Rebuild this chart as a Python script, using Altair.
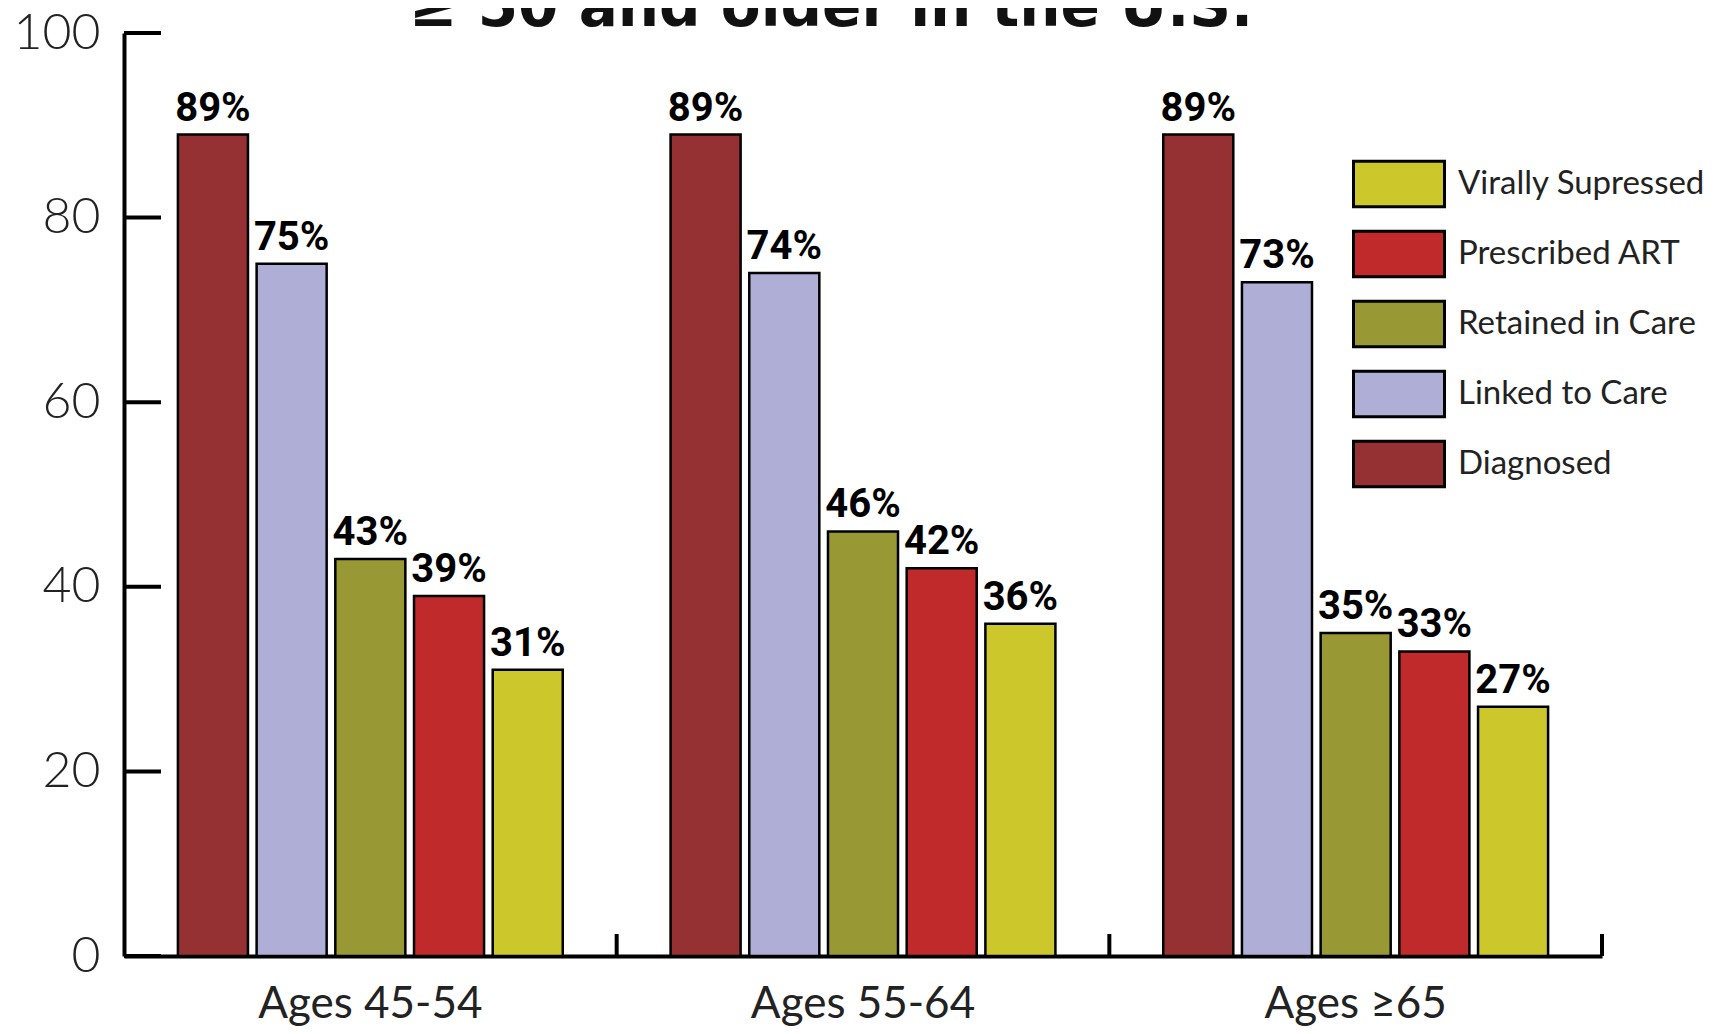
import altair as alt
import pandas as pd

groups = ["Ages 45-54", "Ages 55-64", "Ages ≥65"]
series = ["Diagnosed", "Linked to Care", "Retained in Care", "Prescribed ART", "Virally Supressed"]
colors = ["#963133", "#aeaed6", "#989934", "#c02a2a", "#ccc82c"]
vals_45_54 = [89, 75, 43, 39, 31]
vals_55_64 = [89, 74, 46, 42, 36]
vals_65 = [89, 73, 35, 33, 27]
y_ticks = [0, 20, 40, 60, 80, 100]
title_text = "≥ 50 and older in the U.S."

rows = []
for g, vals in zip(groups, [vals_45_54, vals_55_64, vals_65]):
    for s, v in zip(series, vals):
        rows.append({"group": g, "series": s, "value": v, "label": f"{v}%"})
df = pd.DataFrame(rows)

W, H = 1478, 923

x_enc = alt.X("group:N", sort=groups, title=None,
              scale=alt.Scale(paddingInner=0, paddingOuter=0),
              axis=alt.Axis(labelAngle=0, ticks=False, domainWidth=4, domainColor="black",
                            labelFont="Lato", labelFontSize=44, labelColor="#222",
                            labelPadding=26, labelLimit=0))
xo_enc = alt.XOffset("series:N", sort=series,
                     scale=alt.Scale(paddingInner=0.11, paddingOuter=0.685))
y_enc = alt.Y("value:Q", title=None,
              scale=alt.Scale(domain=[0, 100], nice=False),
              axis=alt.Axis(values=y_ticks, grid=False, ticks=False, domainWidth=4,
                            domainColor="black", labelFont="Lato", labelFontSize=50,
                            labelFontWeight=300,
                            labelColor="#222", labelPadding=24))

leg_domain = series[::-1]
leg_range = colors[::-1]

bars = alt.Chart(df).mark_bar(stroke="black", strokeWidth=2.5, opacity=1).encode(
    x=x_enc,
    xOffset=xo_enc,
    y=y_enc,
    color=alt.Color("series:N", scale=alt.Scale(domain=leg_domain, range=leg_range),
                    legend=alt.Legend(orient="none", legendX=1241, legendY=117, title=None,
                                      symbolType="M-1.4,-0.7H1.4V0.7H-1.4Z", symbolSize=4225,
                                      symbolStrokeColor="black", symbolStrokeWidth=3,
                                      symbolOpacity=1, labelLimit=0,
                                      labelFont="Lato", labelFontSize=33, labelColor="#222",
                                      labelOffset=25, rowPadding=7, padding=0)),
)

labels = alt.Chart(df).mark_text(font="Roboto", fontWeight="bold",
                                 fontSize=40, baseline="bottom", dy=-6, color="black").encode(
    x=alt.X("group:N", sort=groups, title=None),
    xOffset=alt.XOffset("series:N", sort=series),
    y=alt.Y("value:Q", title=None),
    text="label:N",
)

ytick_df = pd.DataFrame({"value": y_ticks})
yticks = alt.Chart(ytick_df).mark_rule(strokeWidth=4, color="black").encode(
    y=alt.Y("value:Q", title=None),
    x=alt.value(0),
    x2=alt.value(37),
)

xtick_df = pd.DataFrame({"group": groups})
xticks = alt.Chart(xtick_df).mark_rule(strokeWidth=4, color="black").encode(
    x=alt.X("group:N", sort=groups, bandPosition=1, title=None),
    y=alt.value(H - 22),
    y2=alt.value(H),
)

title_df = pd.DataFrame({"t": [title_text]})
title = alt.Chart(title_df).mark_text(font="DejaVu Sans", fontWeight="bold", fontSize=58,
                                      align="center", baseline="alphabetic",
                                      color="#111").encode(
    text="t:N",
    x=alt.value(707),
    y=alt.value(-7),
)

chart = alt.layer(bars, labels, yticks, xticks, title).properties(
    width=W, height=H,
    autosize=alt.AutoSizeParams(type="none"),
    padding={"left": 116, "top": 25, "right": 110, "bottom": 70},
).configure_view(stroke=None)

chart.save("out.html", embed_options={"renderer": "svg", "actions": False})
